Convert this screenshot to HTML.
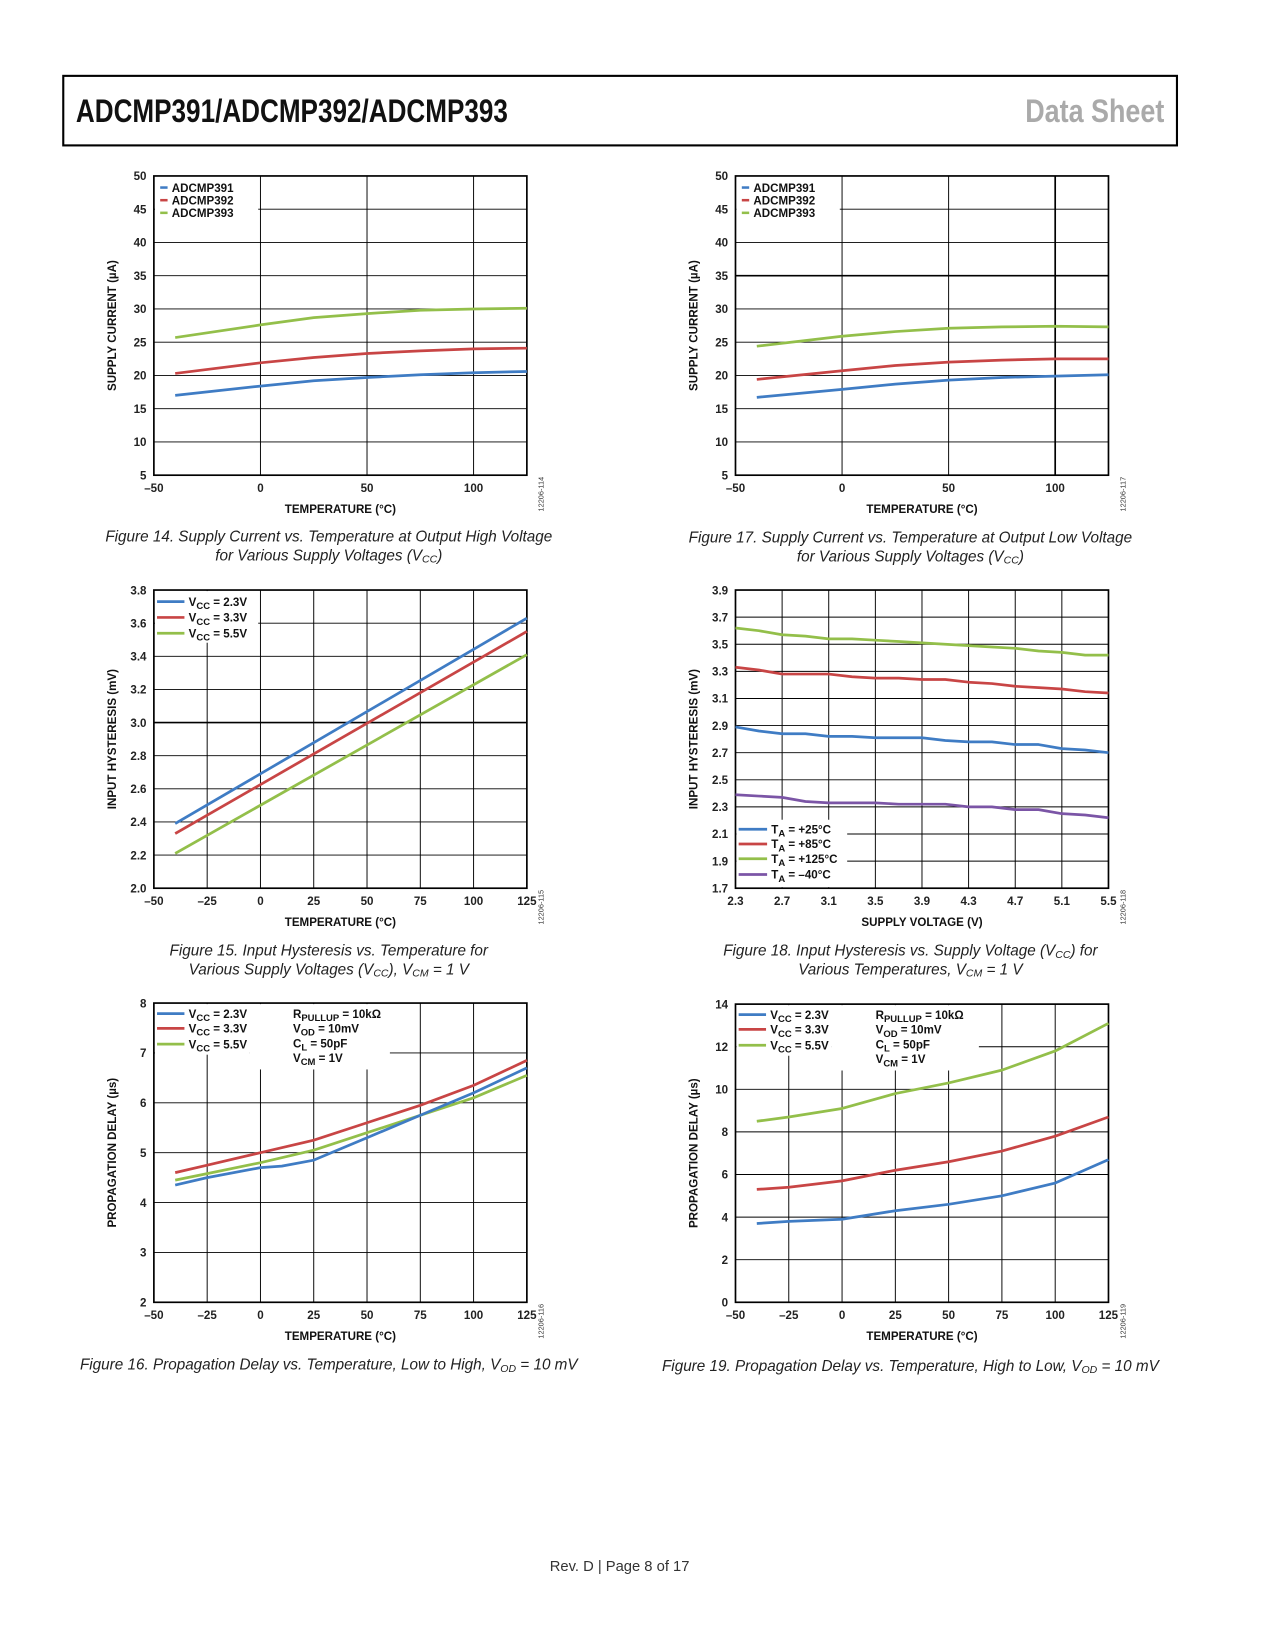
<!DOCTYPE html>
<html><head><meta charset="utf-8"><style>
html,body{margin:0;padding:0;background:#fff;}
svg{display:block;}
text{font-family:"Liberation Sans",sans-serif;}
.tk{font-size:11px;font-weight:bold;fill:#222;}
.at{font-size:11px;font-weight:bold;fill:#111;}
.lg{font-size:11px;font-weight:bold;fill:#111;}
.cap{font-family:"Liberation Sans Narrow","Liberation Sans",sans-serif;font-style:italic;font-size:14.5px;fill:#222;}
.nt{font-size:7px;fill:#333;}
</style></head><body>
<svg id="page" width="1275" height="1650" viewBox="0 0 1210 1566" xmlns="http://www.w3.org/2000/svg">
<rect x="0" y="0" width="1210" height="1566" fill="#fff"/>
<rect x="60" y="72" width="1057" height="66" fill="none" stroke="#000" stroke-width="2"/>
<text x="72" y="116" textLength="410" lengthAdjust="spacingAndGlyphs" style="font-family:'Liberation Sans Narrow','Liberation Sans',sans-serif;font-weight:bold;font-size:31px;fill:#111;">ADCMP391/ADCMP392/ADCMP393</text>
<text x="1105" y="116" text-anchor="end" textLength="132" lengthAdjust="spacingAndGlyphs" style="font-family:'Liberation Sans Narrow','Liberation Sans',sans-serif;font-weight:bold;font-size:31px;fill:#aaa;">Data Sheet</text>
<g id="charts"></g>
<text class="cap" x="312" y="514" text-anchor="middle">Figure 14. Supply Current vs. Temperature at Output High Voltage</text>
<text class="cap" x="312" y="532" text-anchor="middle">for Various Supply Voltages (V<tspan font-size="10" dy="2">CC</tspan><tspan dy="-2">)</tspan></text>
<text class="cap" x="864" y="515" text-anchor="middle">Figure 17. Supply Current vs. Temperature at Output Low Voltage</text>
<text class="cap" x="864" y="533" text-anchor="middle">for Various Supply Voltages (V<tspan font-size="10" dy="2">CC</tspan><tspan dy="-2">)</tspan></text>
<text class="cap" x="312" y="907" text-anchor="middle">Figure 15. Input Hysteresis vs. Temperature for</text>
<text class="cap" x="312" y="925" text-anchor="middle">Various Supply Voltages (V<tspan font-size="10" dy="2">CC</tspan><tspan dy="-2">), V</tspan><tspan font-size="10" dy="2">CM</tspan><tspan dy="-2"> = 1 V</tspan></text>
<text class="cap" x="864" y="907" text-anchor="middle">Figure 18. Input Hysteresis vs. Supply Voltage (V<tspan font-size="10" dy="2">CC</tspan><tspan dy="-2">) for</tspan></text>
<text class="cap" x="864" y="925" text-anchor="middle">Various Temperatures, V<tspan font-size="10" dy="2">CM</tspan><tspan dy="-2"> = 1 V</tspan></text>
<text class="cap" x="312" y="1300" text-anchor="middle">Figure 16. Propagation Delay vs. Temperature, Low to High, V<tspan font-size="10" dy="2">OD</tspan><tspan dy="-2"> = 10 mV</tspan></text>
<text class="cap" x="864" y="1301" text-anchor="middle">Figure 19. Propagation Delay vs. Temperature, High to Low, V<tspan font-size="10" dy="2">OD</tspan><tspan dy="-2"> = 10 mV</tspan></text>
<text x="588" y="1491" text-anchor="middle" style="font-family:'Liberation Sans Narrow','Liberation Sans',sans-serif;font-size:14px;fill:#333;">Rev. D | Page 8 of 17</text>
</svg>
<script>
// ---------- data ----------
const tempX = [-40, 0, 25, 50, 75, 100, 125];
const f14_391 = [17.0, 18.4, 19.2, 19.7, 20.1, 20.4, 20.6];
const f14_392 = [20.3, 21.9, 22.7, 23.3, 23.7, 24.0, 24.1];
const f14_393 = [25.7, 27.6, 28.7, 29.3, 29.8, 30.0, 30.1];
const f17_391 = [16.7, 17.9, 18.7, 19.3, 19.7, 19.9, 20.1];
const f17_392 = [19.4, 20.7, 21.5, 22.0, 22.3, 22.5, 22.5];
const f17_393 = [24.4, 25.9, 26.6, 27.1, 27.3, 27.4, 27.3];
const f15X = [-40, 125];
const f15_23 = [2.39, 3.63];
const f15_33 = [2.33, 3.55];
const f15_55 = [2.21, 3.41];
const f18X = [2.3, 2.5, 2.7, 2.9, 3.1, 3.3, 3.5, 3.7, 3.9, 4.1, 4.3, 4.5, 4.7, 4.9, 5.1, 5.3, 5.5];
const f18_125 = [3.62, 3.60, 3.57, 3.56, 3.54, 3.54, 3.53, 3.52, 3.51, 3.50, 3.49, 3.48, 3.47, 3.45, 3.44, 3.42, 3.42];
const f18_85 = [3.33, 3.31, 3.28, 3.28, 3.28, 3.26, 3.25, 3.25, 3.24, 3.24, 3.22, 3.21, 3.19, 3.18, 3.17, 3.15, 3.14];
const f18_25 = [2.89, 2.86, 2.84, 2.84, 2.82, 2.82, 2.81, 2.81, 2.81, 2.79, 2.78, 2.78, 2.76, 2.76, 2.73, 2.72, 2.70];
const f18_m40 = [2.39, 2.38, 2.37, 2.34, 2.33, 2.33, 2.33, 2.32, 2.32, 2.32, 2.30, 2.30, 2.28, 2.28, 2.25, 2.24, 2.22];
const f16X = [-40, -25, 0, 10, 25, 50, 75, 100, 125];
const f16_23 = [4.35, 4.5, 4.7, 4.73, 4.85, 5.3, 5.75, 6.2, 6.7];
const f16_33 = [4.6, 4.75, 5.0, 5.1, 5.25, 5.6, 5.95, 6.35, 6.85];
const f16_55 = [4.45, 4.58, 4.8, 4.9, 5.05, 5.4, 5.75, 6.1, 6.55];
const f19X = [-40, -25, 0, 25, 50, 75, 100, 125];
const f19_23 = [3.7, 3.8, 3.9, 4.3, 4.6, 5.0, 5.6, 6.7];
const f19_33 = [5.3, 5.4, 5.7, 6.2, 6.6, 7.1, 7.8, 8.7];
const f19_55 = [8.5, 8.7, 9.1, 9.8, 10.3, 10.9, 11.8, 13.1];
const ticks50 = [-50, 0, 50, 100];
const ticks25 = [-50, -25, 0, 25, 50, 75, 100, 125];
const yTicks5 = [5, 10, 15, 20, 25, 30, 35, 40, 45, 50];
const yTicksHys = [2.0, 2.2, 2.4, 2.6, 2.8, 3.0, 3.2, 3.4, 3.6, 3.8];
const yTicksHys2 = [1.7, 1.9, 2.1, 2.3, 2.5, 2.7, 2.9, 3.1, 3.3, 3.5, 3.7, 3.9];
const xTicksV = [2.3, 2.7, 3.1, 3.5, 3.9, 4.3, 4.7, 5.1, 5.5];
const yTicksPd = [2, 3, 4, 5, 6, 7, 8];
const yTicksPd2 = [0, 2, 4, 6, 8, 10, 12, 14];

const BLUE = '#3f7cc4', RED = '#c84545', GREEN = '#93bf4a', PURPLE = '#7b55a6';
const NS = 'http://www.w3.org/2000/svg';
const root = document.getElementById('charts');
function mk(tag, attrs, parent) {
  const e = document.createElementNS(NS, tag);
  for (const k in attrs) e.setAttribute(k, attrs[k]);
  parent.appendChild(e);
  return e;
}
function fmtTick(v, dec) {
  const s = v.toFixed(dec);
  return v < 0 ? '\u2013' + s.slice(1) : s;
}

function chart(c) {
  const g = mk('g', {}, root);
  
  
  const sx = v => c.x0 + (v - c.xmin) / (c.xmax - c.xmin) * (c.x1 - c.x0);
  const sy = v => c.y1 - (v - c.ymin) / (c.ymax - c.ymin) * (c.y1 - c.y0);
  // grid
  c.yTicks.forEach(v => {
    const l = mk('line', {x1: c.x0, x2: c.x1, y1: sy(v), y2: sy(v), stroke: '#000', 'stroke-width': (c.thickY === v) ? 1.6 : 0.9}, g);
    
    
    const t = mk('text', {x: c.x0 - 7, y: sy(v) + 4, 'text-anchor': 'end', class: 'tk'}, g);
    
    
    t.textContent = fmtTick(v, c.ydec);
  });
  c.xTicks.forEach(v => {
    const l = mk('line', {x1: sx(v), x2: sx(v), y1: c.y0, y2: c.y1, stroke: '#000', 'stroke-width': (c.thickX === v) ? 1.6 : 0.9}, g);
    
    
    const t = mk('text', {x: sx(v), y: c.y1 + 16, 'text-anchor': 'middle', class: 'tk'}, g);
    
    
    t.textContent = fmtTick(v, c.xdec);
  });
  // legend background
  c.legendBoxes.forEach(b => {
    const r = mk('rect', {x: b[0], y: b[1], width: b[2], height: b[3], fill: '#fff'}, g);
    
    
  });
  // frame
  const fr = mk('rect', {x: c.x0, y: c.y0, width: c.x1 - c.x0, height: c.y1 - c.y0, fill: 'none', stroke: '#000', 'stroke-width': 1.6}, g);
  
  
  // series
  c.series.forEach(s => {
    const d = s.xs.map((x, i) => (i ? 'L' : 'M') + sx(x).toFixed(2) + ',' + sy(s.ys[i]).toFixed(2)).join(' ');
    const p = mk('path', {d: d, fill: 'none', stroke: s.color, 'stroke-width': 2.6, 'stroke-linejoin': 'round', 'stroke-linecap': 'butt'}, g);
    
    
  });
  // legend entries
  c.legend.forEach(e => {
    const l = mk('line', {x1: e.x, x2: e.x + e.w, y1: e.y - 4, y2: e.y - 4, stroke: e.color, 'stroke-width': e.w > 10 ? 2.6 : 2.4}, g);
    
    
    const t = mk('text', {x: e.x + e.w + 4, y: e.y, class: 'lg'}, g);
    
    
    t.innerHTML = e.html;
  });
  (c.notes || []).forEach(n => {
    const t = mk('text', {x: n.x, y: n.y, class: 'lg'}, g);
    
    
    t.innerHTML = n.html;
  });
  // axis titles
  const xt = mk('text', {x: (c.x0 + c.x1) / 2, y: c.y1 + 36, 'text-anchor': 'middle', class: 'at'}, g);
  
  
  xt.textContent = c.xTitle;
  const yx = c.x0 - 36, yy = (c.y0 + c.y1) / 2;
  const yt = mk('text', {x: yx, y: yy, 'text-anchor': 'middle', class: 'at', transform: 'rotate(-90 ' + yx + ' ' + yy + ')'}, g);
  
  
  yt.textContent = c.yTitle;
  const nx = c.x1 + 16, ny = c.y1 + 18;
  const nt = mk('text', {x: nx, y: ny, 'text-anchor': 'middle', class: 'nt', transform: 'rotate(-90 ' + nx + ' ' + ny + ')'}, g);
  
  
  nt.textContent = c.code;
}
const sub = s => '<tspan dy="3" font-size="9">' + s + '</tspan><tspan dy="-3">';
const vcc = v => 'V' + sub('CC') + ' = ' + v + '</tspan>';
const ta = v => 'T' + sub('A') + ' = ' + v + '</tspan>';

chart({name: 'fig14-chart', x0: 146, x1: 500, y0: 167, y1: 451, xmin: -50, xmax: 125, ymin: 5, ymax: 50,
  xTicks: ticks50, yTicks: yTicks5, xdec: 0, ydec: 0, xTitle: 'TEMPERATURE (\u00b0C)', yTitle: 'SUPPLY CURRENT (\u00b5A)', code: '12206-114',
  legendBoxes: [[147, 168, 98, 41]],
  series: [{name: 'line-adcmp393', xs: tempX, ys: f14_393, color: GREEN}, {name: 'line-adcmp392', xs: tempX, ys: f14_392, color: RED}, {name: 'line-adcmp391', xs: tempX, ys: f14_391, color: BLUE}],
  legend: [{x: 152, y: 182, w: 7, color: BLUE, html: 'ADCMP391'}, {x: 152, y: 194, w: 7, color: RED, html: 'ADCMP392'}, {x: 152, y: 206, w: 7, color: GREEN, html: 'ADCMP393'}]});

chart({name: 'fig17-chart', x0: 698, x1: 1052, y0: 167, y1: 451, xmin: -50, xmax: 125, ymin: 5, ymax: 50,
  xTicks: ticks50, yTicks: yTicks5, xdec: 0, ydec: 0, thickY: 35, thickX: 100, xTitle: 'TEMPERATURE (\u00b0C)', yTitle: 'SUPPLY CURRENT (\u00b5A)', code: '12206-117',
  legendBoxes: [[699, 168, 98, 41]],
  series: [{name: 'line-adcmp393', xs: tempX, ys: f17_393, color: GREEN}, {name: 'line-adcmp392', xs: tempX, ys: f17_392, color: RED}, {name: 'line-adcmp391', xs: tempX, ys: f17_391, color: BLUE}],
  legend: [{x: 704, y: 182, w: 7, color: BLUE, html: 'ADCMP391'}, {x: 704, y: 194, w: 7, color: RED, html: 'ADCMP392'}, {x: 704, y: 206, w: 7, color: GREEN, html: 'ADCMP393'}]});

chart({name: 'fig15-chart', x0: 146, x1: 500, y0: 560, y1: 843, xmin: -50, xmax: 125, ymin: 2.0, ymax: 3.8,
  xTicks: ticks25, yTicks: yTicksHys, xdec: 0, ydec: 1, thickY: 3.0, xTitle: 'TEMPERATURE (\u00b0C)', yTitle: 'INPUT HYSTERESIS (mV)', code: '12206-115',
  legendBoxes: [[147, 561, 98, 49]],
  series: [{name: 'line-vcc-2v3', xs: f15X, ys: f15_23, color: BLUE}, {name: 'line-vcc-3v3', xs: f15X, ys: f15_33, color: RED}, {name: 'line-vcc-5v5', xs: f15X, ys: f15_55, color: GREEN}],
  legend: [{x: 149, y: 575, w: 26, color: BLUE, html: vcc('2.3V')}, {x: 149, y: 590, w: 26, color: RED, html: vcc('3.3V')}, {x: 149, y: 605, w: 26, color: GREEN, html: vcc('5.5V')}]});

chart({name: 'fig18-chart', x0: 698, x1: 1052, y0: 560, y1: 843, xmin: 2.3, xmax: 5.5, ymin: 1.7, ymax: 3.9,
  xTicks: xTicksV, yTicks: yTicksHys2, xdec: 1, ydec: 1, xTitle: 'SUPPLY VOLTAGE (V)', yTitle: 'INPUT HYSTERESIS (mV)', code: '12206-118',
  legendBoxes: [[699, 778, 105, 64]],
  series: [{name: 'line-ta-125c', xs: f18X, ys: f18_125, color: GREEN}, {name: 'line-ta-85c', xs: f18X, ys: f18_85, color: RED}, {name: 'line-ta-25c', xs: f18X, ys: f18_25, color: BLUE}, {name: 'line-ta-minus40c', xs: f18X, ys: f18_m40, color: PURPLE}],
  legend: [{x: 701, y: 791, w: 27, color: BLUE, html: ta('+25\u00b0C')}, {x: 701, y: 805, w: 27, color: RED, html: ta('+85\u00b0C')}, {x: 701, y: 819, w: 27, color: GREEN, html: ta('+125\u00b0C')}, {x: 701, y: 834, w: 27, color: PURPLE, html: ta('\u201340\u00b0C')}]});

chart({name: 'fig16-chart', x0: 146, x1: 500, y0: 952, y1: 1236, xmin: -50, xmax: 125, ymin: 2, ymax: 8,
  xTicks: ticks25, yTicks: yTicksPd, xdec: 0, ydec: 0, xTitle: 'TEMPERATURE (\u00b0C)', yTitle: 'PROPAGATION DELAY (\u00b5s)', code: '12206-116',
  legendBoxes: [[147, 953, 90, 48], [237, 953, 133, 62]],
  series: [{name: 'line-vcc-3v3', xs: f16X, ys: f16_33, color: RED}, {name: 'line-vcc-5v5', xs: f16X, ys: f16_55, color: GREEN}, {name: 'line-vcc-2v3', xs: f16X, ys: f16_23, color: BLUE}],
  legend: [{x: 149, y: 966, w: 26, color: BLUE, html: vcc('2.3V')}, {x: 149, y: 980, w: 26, color: RED, html: vcc('3.3V')}, {x: 149, y: 995, w: 26, color: GREEN, html: vcc('5.5V')}],
  notes: [{x: 278, y: 966, html: 'R' + sub('PULLUP') + ' = 10k\u03a9</tspan>'}, {x: 278, y: 980, html: 'V' + sub('OD') + ' = 10mV</tspan>'}, {x: 278, y: 994, html: 'C' + sub('L') + ' = 50pF</tspan>'}, {x: 278, y: 1008, html: 'V' + sub('CM') + ' = 1V</tspan>'}]});

chart({name: 'fig19-chart', x0: 698, x1: 1052, y0: 953, y1: 1236, xmin: -50, xmax: 125, ymin: 0, ymax: 14,
  xTicks: ticks25, yTicks: yTicksPd2, xdec: 0, ydec: 0, xTitle: 'TEMPERATURE (\u00b0C)', yTitle: 'PROPAGATION DELAY (\u00b5s)', code: '12206-119',
  legendBoxes: [[699, 954, 90, 48], [789, 954, 140, 62]],
  series: [{name: 'line-vcc-5v5', xs: f19X, ys: f19_55, color: GREEN}, {name: 'line-vcc-3v3', xs: f19X, ys: f19_33, color: RED}, {name: 'line-vcc-2v3', xs: f19X, ys: f19_23, color: BLUE}],
  legend: [{x: 701, y: 967, w: 26, color: BLUE, html: vcc('2.3V')}, {x: 701, y: 981, w: 26, color: RED, html: vcc('3.3V')}, {x: 701, y: 996, w: 26, color: GREEN, html: vcc('5.5V')}],
  notes: [{x: 831, y: 967, html: 'R' + sub('PULLUP') + ' = 10k\u03a9</tspan>'}, {x: 831, y: 981, html: 'V' + sub('OD') + ' = 10mV</tspan>'}, {x: 831, y: 995, html: 'C' + sub('L') + ' = 50pF</tspan>'}, {x: 831, y: 1009, html: 'V' + sub('CM') + ' = 1V</tspan>'}]});
</script>
</body></html>
